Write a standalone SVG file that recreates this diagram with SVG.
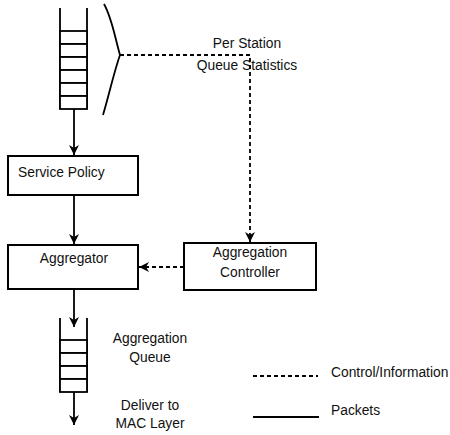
<svg xmlns="http://www.w3.org/2000/svg" width="450" height="435" viewBox="0 0 450 435">
<style>
  .box{fill:#fff;stroke:#000;stroke-width:2}
  .ln{fill:none;stroke:#000;stroke-width:1.8}
  .dash{fill:none;stroke:#000;stroke-width:1.8;stroke-dasharray:4 3}
  .cell{fill:#fff;stroke:#000;stroke-width:1.8}
  text{font-family:"Liberation Sans",Arial,Helvetica,sans-serif;font-size:13.8px;fill:#111}
</style>
<defs>
  <marker id="ahb" viewBox="0 0 10 10" refX="10" refY="5" markerWidth="10" markerHeight="10" orient="auto" markerUnits="userSpaceOnUse">
    <path d="M0,0 L10,5 L0,10 L3,5 Z" fill="#000"/>
  </marker>
</defs>

<g id="station-queue">
  <path class="ln" d="M60,8 V109 M87,8 V109"/>
  <rect class="cell" x="60" y="31" width="27" height="13"/>
  <rect class="cell" x="60" y="44" width="27" height="13"/>
  <rect class="cell" x="60" y="57" width="27" height="13"/>
  <rect class="cell" x="60" y="70" width="27" height="13"/>
  <rect class="cell" x="60" y="83" width="27" height="13"/>
  <rect class="cell" x="60" y="96" width="27" height="13"/>
</g>

<g id="brace">
  <path class="ln" d="M104,4 C112,18 115,38 120,55 C114,72 109,95 103,115"/>
</g>

<g id="stats-label">
  <text x="247" y="48" text-anchor="middle">Per Station</text>
  <text x="247" y="70" text-anchor="middle">Queue Statistics</text>
</g>

<g id="service-policy">
  <rect class="box" x="8" y="156" width="130" height="39"/>
  <text x="18" y="177">Service Policy</text>
</g>

<g id="aggregator">
  <rect class="box" x="8" y="245" width="130" height="44"/>
  <text x="74" y="263" text-anchor="middle">Aggregator</text>
</g>

<g id="aggregation-controller">
  <rect class="box" x="184" y="243" width="132" height="47"/>
  <text x="250" y="257" text-anchor="middle">Aggregation</text>
  <text x="250" y="277" text-anchor="middle">Controller</text>
</g>

<g id="aggregation-queue">
  <path class="ln" d="M60,318 V392 M87,318 V392"/>
  <rect class="cell" x="60" y="340" width="27" height="13"/>
  <rect class="cell" x="60" y="353" width="27" height="13"/>
  <rect class="cell" x="60" y="366" width="27" height="13"/>
  <rect class="cell" x="60" y="379" width="27" height="13"/>
  <text x="150" y="343" text-anchor="middle">Aggregation</text>
  <text x="150" y="362" text-anchor="middle">Queue</text>
</g>

<g id="deliver-label">
  <text x="150" y="410" text-anchor="middle">Deliver to</text>
  <text x="150" y="428" text-anchor="middle">MAC Layer</text>
</g>

<g id="connectors">
  <path class="ln" d="M74,109 V155" marker-end="url(#ahb)"/>
  <path class="ln" d="M74,195 V244" marker-end="url(#ahb)"/>
  <path class="ln" d="M74,289 V327" marker-end="url(#ahb)"/>
  <path class="ln" d="M74,392 V425" marker-end="url(#ahb)"/>
  <path class="dash" d="M120,55 H250 V242" marker-end="url(#ahb)"/>
  <path class="dash" d="M184,267 H139" marker-end="url(#ahb)"/>
</g>

<g id="legend">
  <path class="dash" d="M253,376 H318"/>
  <text x="331" y="377">Control/Information</text>
  <path class="ln" d="M253,417 H319" style="stroke-width:2"/>
  <text x="331" y="415">Packets</text>
</g>
</svg>
